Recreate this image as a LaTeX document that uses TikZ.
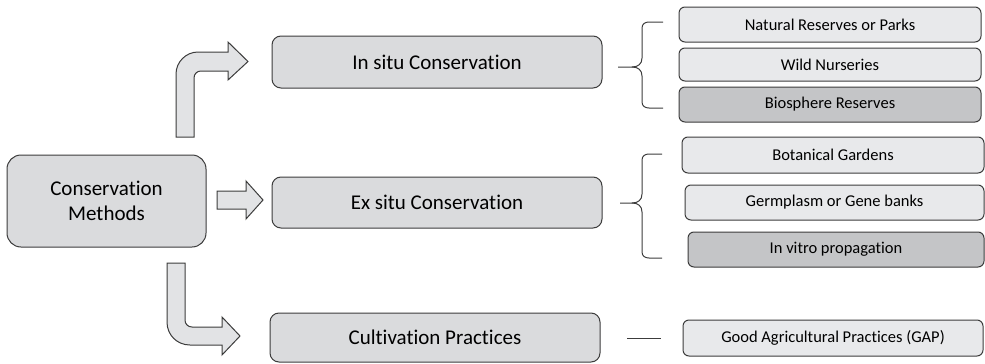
\documentclass[tikz,border=0pt]{standalone}
\usepackage{fontspec}
\setmainfont{Carlito}[Ligatures=NoCommon]
\definecolor{mainfill}{HTML}{DADBDD}
\definecolor{lightfill}{HTML}{E8E9EB}
\definecolor{darkfill}{HTML}{C4C5C7}
\definecolor{arrowfill}{HTML}{E2E3E5}
\definecolor{edge}{HTML}{3C3C3C}
\begin{document}
\begin{tikzpicture}[x=1pt,y=-1pt,
  bigbox/.style={draw=edge,line width=1pt,fill=mainfill,rounded corners=9pt,inner sep=0pt,font=\fontsize{21}{25}\selectfont,align=center},
  smallbox/.style={draw=edge,line width=1pt,rounded corners=6pt,inner sep=0pt,font=\fontsize{16.5}{19}\selectfont},
  lightbox/.style={smallbox,fill=lightfill},
  darkbox/.style={smallbox,fill=darkfill},
  blockarrow/.style={draw=edge,line width=1pt,fill=arrowfill,line join=miter},
  brace/.style={draw=edge,line width=1pt}]
\useasboundingbox (0,0) rectangle (985,364);
% main boxes
\node[bigbox,rounded corners=14pt,minimum width=199pt,minimum height=92pt] (main) at (106.5,201) {Conservation\\Methods};
\node[bigbox,minimum width=330pt,minimum height=52pt] (insitu) at (437,62) {In situ Conservation};
\node[bigbox,minimum width=330pt,minimum height=51pt] (exsitu) at (437,202.5) {Ex situ Conservation};
\node[bigbox,minimum width=330pt,minimum height=49pt] (cult) at (435,337.5) {Cultivation Practices};
% right boxes
\node[lightbox,minimum width=302pt,minimum height=35pt] (nat) at (830,24.5) {Natural Reserves or Parks};
\node[lightbox,minimum width=302pt,minimum height=33pt] (wild) at (830,64.5) {Wild Nurseries};
\node[darkbox,minimum width=302pt,minimum height=35pt] (bio) at (830,104.5) {Biosphere Reserves};
\node[lightbox,minimum width=302pt,minimum height=36pt] (bot) at (833,155) {Botanical Gardens};
\node[lightbox,minimum width=299pt,minimum height=35pt] (germ) at (834.5,202.5) {Germplasm or Gene banks};
\node[darkbox,minimum width=296pt,minimum height=35pt] (vitro) at (836,249.5) {In vitro propagation};
\node[lightbox,minimum width=300pt,minimum height=36pt] (gap) at (833,338) {Good Agricultural Practices (GAP)};
% block arrows
\draw[blockarrow] (176,137) -- (176,74) .. controls (176,62) and (186,52) .. (198,52) -- (228,52) -- (228,42) -- (248,61.5) -- (228,80) -- (228,71) -- (201,71) .. controls (197,71) and (194,74) .. (194,78) -- (194,137) -- cycle;
\draw[blockarrow] (217,191) -- (246,191) -- (246,181) -- (263,200) -- (246,219) -- (246,209) -- (217,209) -- cycle;
\draw[blockarrow] (167,263) -- (185,263) -- (185,320) .. controls (185,324) and (188,327) .. (192,327) -- (222,327) -- (222,317) -- (240,336) -- (222,355) -- (222,345) -- (190,345) .. controls (177,345) and (167,335) .. (167,322) -- cycle;
% braces
\draw[brace] (663,22) -- (649,22) .. controls (645,22) and (642,24) .. (642,28) -- (642,58) .. controls (642,64) and (638,67) .. (632,67) -- (618,67);
\draw[brace] (632,67) .. controls (638,67) and (642,70) .. (642,76) -- (642,102) .. controls (642,106) and (645,108) .. (649,108) -- (663,108);
\draw[brace] (662,154) -- (649,154) .. controls (645,154) and (642,156) .. (642,160) -- (642,194) .. controls (642,200) and (638,203) .. (632,203) -- (620,203);
\draw[brace] (632,203) .. controls (638,203) and (642,206) .. (642,212) -- (642,252) .. controls (642,256) and (645,258) .. (649,258) -- (662,258);
% line to GAP
\coordinate (l1) at (627,338);
\coordinate (l2) at (661,338);
\draw[brace] (l1) -- (l2);
\end{tikzpicture}
\end{document}
